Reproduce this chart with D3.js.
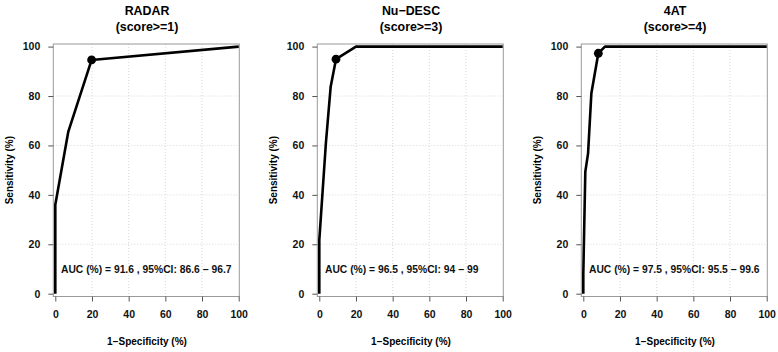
<!DOCTYPE html>
<html>
<head>
<meta charset="utf-8">
<script src="https://cdn.jsdelivr.net/npm/d3@7"></script>
<style>
  body { margin: 0; background: #fff; }
  svg { display: block; font-family: "Liberation Sans", Arial, sans-serif; font-weight: bold; }
</style>
</head>
<body>
<svg id="chart" width="778" height="352"></svg>
<script>
// dados de cada painel
const titles = ["RADAR", "Nu\u2212DESC", "4AT"];
const subtitles = ["(score>=1)", "(score>=3)", "(score>=4)"];
const fprValues = [
  [0, 0, 7.1, 19.8, 100],
  [0, 0, 3.6, 6.2, 9.1, 20, 100],
  [0, 0, 1.1, 2.6, 4.4, 8.2, 11.8, 100]
];
const sensValues = [
  [0, 36, 65.6, 94.6, 100],
  [0, 21.7, 61, 83.8, 94.9, 100, 100],
  [0, 8, 49.4, 56.8, 81.1, 97.3, 100, 100]
];
const cutFpr = [19.8, 9.1, 8.2];
const cutSens = [94.6, 94.9, 97.3];
const aucLabels = [
  "AUC (%) = 91.6 , 95%CI: 86.6 \u2212 96.7",
  "AUC (%) = 96.5 , 95%CI: 94 \u2212 99",
  "AUC (%) = 97.5 , 95%CI: 95.5 \u2212 99.6"
];
const tickValues = [0, 20, 40, 60, 80, 100];
const gridValues = [20, 40, 60, 80];

const svg = d3.select("#chart");
const panelLeft = [55.3, 319.3, 583.3];
const panelWidth = 183.4;
const yTop = 46.6, yBottom = 293.7;

titles.forEach((title, i) => {
  const x = d3.scaleLinear().domain([0, 100]).range([panelLeft[i], panelLeft[i] + panelWidth]);
  const y = d3.scaleLinear().domain([0, 100]).range([yBottom, yTop]);
  const g = svg.append("g");

  const bx0 = x(0) - 2, bx1 = x(100) + 0.6, by0 = y(100) - 2.6, by1 = y(0) + 2.8;

  // grade pontilhada
  g.selectAll(".gx").data(gridValues).enter().append("line")
    .attr("x1", d => x(d)).attr("x2", d => x(d))
    .attr("y1", by0).attr("y2", by1)
    .attr("stroke", "#d8d8d8").attr("stroke-width", 1).attr("stroke-dasharray", "1,2");
  g.selectAll(".gy").data(gridValues).enter().append("line")
    .attr("x1", bx0).attr("x2", bx1)
    .attr("y1", d => y(d)).attr("y2", d => y(d))
    .attr("stroke", "#d8d8d8").attr("stroke-width", 1).attr("stroke-dasharray", "1,2");

  // caixa
  g.append("rect")
    .attr("x", bx0).attr("y", by0)
    .attr("width", bx1 - bx0).attr("height", by1 - by0)
    .attr("fill", "none").attr("stroke", "#9a9a9a").attr("stroke-width", 1);

  // eixos
  const xAxis = g.append("g")
    .attr("transform", `translate(0,${by1})`)
    .call(d3.axisBottom(x).tickValues(tickValues).tickSize(5).tickPadding(9));
  const yAxis = g.append("g")
    .attr("transform", `translate(${bx0},0)`)
    .call(d3.axisLeft(y).tickValues(tickValues).tickSize(5).tickPadding(8));
  [xAxis, yAxis].forEach(a => {
    a.select(".domain").remove();
    a.selectAll(".tick line").attr("stroke", "#555");
    a.selectAll(".tick text")
      .attr("fill", "#111")
      .style("font-size", "10.5px")
      .style("font-weight", "bold")
      .style("font-family", "Liberation Sans, Arial, sans-serif");
  });

  // curva ROC
  const pts = fprValues[i].map((f, k) => [f, sensValues[i][k]]);
  const line = d3.line().x(d => x(d[0])).y(d => y(d[1]));
  g.append("path")
    .datum(pts)
    .attr("d", line)
    .attr("fill", "none")
    .attr("stroke", "#000")
    .attr("stroke-width", 2.6)
    .attr("stroke-linejoin", "round");

  // ponto de corte
  g.append("circle")
    .attr("cx", x(cutFpr[i])).attr("cy", y(cutSens[i]))
    .attr("r", 4.4).attr("fill", "#000");

  // AUC
  g.append("text")
    .attr("x", x(3.1)).attr("y", y(10))
    .attr("dy", "0.35em")
    .attr("font-size", "10.3px")
    .attr("fill", "#111")
    .text(aucLabels[i]);

  // títulos
  const cx = (x(0) + x(100)) / 2;
  g.append("text")
    .attr("x", cx).attr("y", 11).attr("dy", "0.35em")
    .attr("text-anchor", "middle").attr("font-size", "12.4px")
    .text(title);
  g.append("text")
    .attr("x", cx).attr("y", 27).attr("dy", "0.35em")
    .attr("text-anchor", "middle").attr("font-size", "12.4px")
    .text(subtitles[i]);

  // rótulos dos eixos
  g.append("text")
    .attr("x", cx).attr("y", 341.5).attr("dy", "0.35em")
    .attr("text-anchor", "middle").attr("font-size", "10px")
    .text("1\u2212Specificity (%)");
  g.append("text")
    .attr("transform", `translate(${panelLeft[i] - 46},${(yTop + yBottom) / 2}) rotate(-90)`)
    .attr("dy", "0.35em")
    .attr("text-anchor", "middle").attr("font-size", "10px")
    .text("Sensitivity (%)");
});
</script>
</body>
</html>
